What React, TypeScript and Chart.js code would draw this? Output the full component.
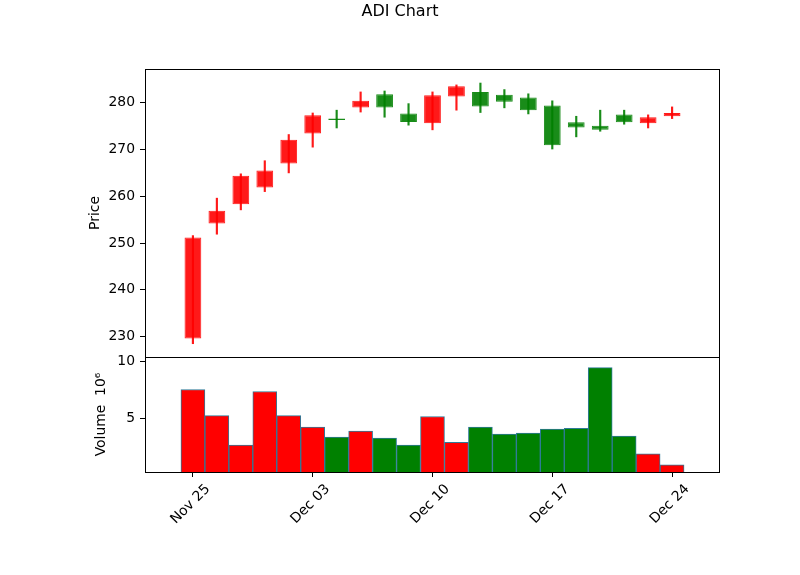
import { useEffect, useRef } from "react"
import { Chart, registerables } from "chart.js"

Chart.register(...registerables)

// trading days shown on the chart
const dates = [
  "Nov 25", "Nov 26", "Nov 27", "Nov 29", "Dec 02", "Dec 03", "Dec 04",
  "Dec 05", "Dec 06", "Dec 09", "Dec 10", "Dec 11", "Dec 12", "Dec 13",
  "Dec 16", "Dec 17", "Dec 18", "Dec 19", "Dec 20", "Dec 23", "Dec 24",
]
const opens = [
  229.6, 254.2, 258.3, 261.9, 267.0, 273.4, 276.4, 279.0, 281.8, 277.7, 275.6,
  281.3, 282.3, 281.7, 281.1, 279.4, 275.8, 275.1, 277.5, 275.6, 277.1,
]
const highs = [
  251.6, 259.6, 264.8, 267.6, 273.2, 277.8, 278.4, 282.3, 282.5, 279.8, 282.3,
  283.8, 284.2, 282.8, 281.9, 280.4, 277.1, 278.4, 278.4, 277.4, 279.1,
]
const lows = [
  228.5, 251.9, 257.1, 261.0, 265.0, 270.5, 274.6, 278.0, 276.9, 275.2, 274.2,
  278.4, 277.9, 278.9, 277.6, 270.1, 272.7, 273.9, 275.4, 274.6, 276.6,
]
const closes = [
  251.2, 256.9, 264.4, 265.5, 272.1, 277.3, 276.3, 280.4, 279.0, 275.9, 281.6,
  283.5, 279.2, 280.2, 278.4, 270.9, 274.7, 274.2, 275.8, 276.9, 277.8,
]
// volume in millions
const volumes = [
  7.52, 5.22, 2.64, 7.35, 5.22, 4.21, 3.34, 3.86, 3.25, 2.64, 5.15,
  2.87, 4.21, 3.6, 3.69, 4.04, 4.12, 9.44, 3.43, 1.86, 0.9,
]
const dateTicks = [0, 5, 10, 15, 20]
const priceTicks = [230, 240, 250, 260, 270, 280]
const volumeTicks = [5, 10]

const FONT = "DejaVu Sans"
const TICK_SIZE = 13.9

Chart.defaults.font.family = FONT
Chart.defaults.color = "#000"

// box around each pane, like matplotlib spines
const paneFrame = {
  id: "paneFrame",
  afterDraw(chart: any) {
    const { ctx, chartArea } = chart
    ctx.save()
    ctx.strokeStyle = "#000"
    ctx.lineWidth = 1
    for (const id of ["yPrice", "yVol"]) {
      const s = chart.scales[id]
      ctx.strokeRect(
        chartArea.left + 0.5,
        s.top + 0.5,
        chartArea.right - chartArea.left - 1,
        s.bottom - s.top
      )
    }
    ctx.restore()
  },
}

// figure title, centred on the whole canvas (suptitle)
const figureTitle = {
  id: "figureTitle",
  afterDraw(chart: any) {
    const { ctx, width } = chart
    ctx.save()
    ctx.font = `16px "${FONT}"`
    ctx.fillStyle = "#000"
    ctx.textAlign = "center"
    ctx.textBaseline = "alphabetic"
    ctx.fillText("ADI Chart", width / 2, 15.7)
    ctx.restore()
  },
}

function CandleChart() {
  const chartRef = useRef<HTMLCanvasElement>(null)
  const chartInstance = useRef<Chart | null>(null)

  useEffect(() => {
    if (!chartRef.current) return
    if (chartInstance.current) chartInstance.current.destroy()

    const up = closes.map((c, i) => c > opens[i])
    const candleColor = up.map((u) => (u ? "rgba(255, 0, 0, 0.9)" : "rgba(0, 128, 0, 0.9)"))
    const volColor = up.map((u) => (u ? "#ff0000" : "#008000"))

    const wicks = dates.map((_, i) => ({ x: i, y: [lows[i], highs[i]] }))
    const bodies = dates.map((_, i) => ({
      x: i,
      y: [Math.min(opens[i], closes[i]), Math.max(opens[i], closes[i])],
    }))
    const vols = dates.map((_, i) => ({ x: i, y: volumes[i] }))

    const tickStyle = {
      font: { family: FONT, size: TICK_SIZE },
      color: "#000",
    }
    const gridStyle = {
      display: true,
      drawOnChartArea: false,
      drawTicks: true,
      offset: false,
      tickLength: 5,
      color: "#000",
      lineWidth: 1,
    }

    chartInstance.current = new Chart(chartRef.current, {
      type: "bar",
      data: {
        datasets: [
          {
            label: "wick",
            data: wicks as any,
            yAxisID: "yPrice",
            backgroundColor: candleColor,
            borderWidth: 0,
            barThickness: 1.5,
            grouped: false,
          },
          {
            label: "body",
            data: bodies as any,
            yAxisID: "yPrice",
            backgroundColor: candleColor,
            borderColor: candleColor,
            borderWidth: 1,
            borderSkipped: false,
            barPercentage: 0.7,
            categoryPercentage: 1,
            minBarLength: 1.5,
            grouped: false,
          },
          {
            label: "volume",
            data: vols as any,
            yAxisID: "yVol",
            backgroundColor: volColor,
            borderColor: "#2f7a98",
            borderWidth: 1,
            barPercentage: 1,
            categoryPercentage: 1,
            grouped: false,
          },
        ],
      },
      options: {
        animation: false,
        responsive: true,
        maintainAspectRatio: false,
        events: [],
        layout: { padding: { left: 0, right: 80, top: 69, bottom: 0 } },
        plugins: {
          legend: { display: false },
          tooltip: { enabled: false },
          title: { display: false },
        },
        scales: {
          x: {
            type: "linear",
            min: -2,
            max: 22,
            offset: false,
            grid: gridStyle,
            border: { display: false },
            afterBuildTicks: (scale: any) => {
              scale.ticks = dateTicks.map((v) => ({ value: v }))
            },
            afterFit: (scale: any) => {
              scale.height = 103
            },
            ticks: {
              ...tickStyle,
              autoSkip: false,
              minRotation: 45,
              maxRotation: 45,
              labelOffset: 15,
              padding: 4,
              callback: (v: any) => dates[v] ?? "",
            },
          },
          yPrice: {
            type: "linear",
            position: "left",
            stack: "panes",
            stackWeight: 288,
            weight: 2,
            min: 225.66,
            max: 287.2,
            grid: gridStyle,
            border: { display: false },
            afterBuildTicks: (scale: any) => {
              scale.ticks = priceTicks.map((v) => ({ value: v }))
            },
            afterFit: (scale: any) => {
              scale.width = 145
            },
            ticks: { ...tickStyle, padding: 5 },
            title: {
              display: true,
              text: "Price",
              color: "#000",
              font: { family: FONT, size: TICK_SIZE },
              padding: { top: 86.7, bottom: 0 },
            },
          },
          yVol: {
            type: "linear",
            position: "left",
            stack: "panes",
            stackWeight: 115,
            weight: 1,
            min: 0.27,
            max: 10.38,
            grid: gridStyle,
            border: { display: false },
            afterBuildTicks: (scale: any) => {
              scale.ticks = volumeTicks.map((v) => ({ value: v }))
            },
            afterFit: (scale: any) => {
              scale.width = 145
            },
            ticks: { ...tickStyle, padding: 5 },
            title: {
              display: true,
              text: "Volume  10⁶",
              color: "#000",
              font: { family: FONT, size: TICK_SIZE },
              padding: { top: 93.4, bottom: 0 },
            },
          },
        },
      },
      plugins: [paneFrame, figureTitle],
    })

    return () => {
      if (chartInstance.current) {
        chartInstance.current.destroy()
        chartInstance.current = null
      }
    }
  }, [])

  return <canvas ref={chartRef} />
}

export default function App() {
  return (
    <div style={{ position: "absolute", left: 0, top: 0, width: 800, height: 575, background: "#fff" }}>
      <CandleChart />
    </div>
  )
}
